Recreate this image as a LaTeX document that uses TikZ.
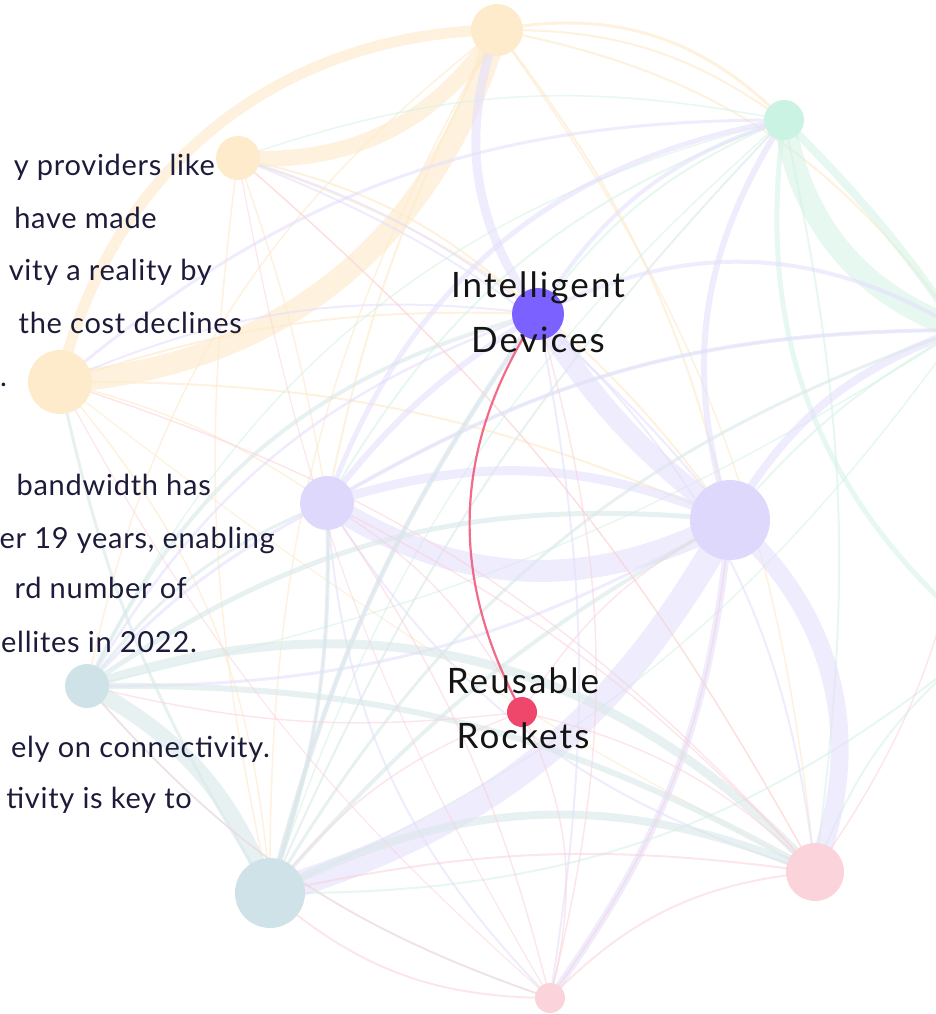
\documentclass[tikz,border=0pt]{standalone}
\usepackage{fontspec}
\setmainfont{Lato}
\newfontfamily\bodyfont[LetterSpace=2.5]{Lato}
\newfontfamily\labelfont[LetterSpace=6]{Lato}
\definecolor{cO}{HTML}{FDE9C8}
\definecolor{cL}{HTML}{E4DFFC}
\definecolor{cM}{HTML}{D5F3E6}
\definecolor{cB}{HTML}{D9E8E9}
\definecolor{cP}{HTML}{FAD2DA}
\definecolor{nO}{HTML}{FDEBCC}
\definecolor{nM}{HTML}{CBF3E3}
\definecolor{nL}{HTML}{DDD8FC}
\definecolor{nE}{HTML}{7B61FF}
\definecolor{nB}{HTML}{CFE2E7}
\definecolor{nP}{HTML}{FAD3DB}
\definecolor{nR}{HTML}{EF476B}
\definecolor{txtc}{HTML}{1C1B3A}
\pgfdeclarelayer{edges}
\pgfsetlayers{edges,main}
\begin{document}
\begin{tikzpicture}[x=1pt,y=-1pt,
  nd/.style={circle,inner sep=0pt,draw=none},
  eO/.style={draw=cO,draw opacity=.6,line cap=round},
  eL/.style={draw=cL,draw opacity=.6,line cap=round},
  eM/.style={draw=cM,draw opacity=.6,line cap=round},
  eB/.style={draw=cB,draw opacity=.6,line cap=round},
  eP/.style={draw=cP,draw opacity=.55,line cap=round},
  txt/.style={text=txtc,font=\bodyfont\fontsize{29}{34}\selectfont,inner sep=0pt},
  lbl/.style={text=black!92,font=\labelfont\fontsize{35}{40}\selectfont,inner sep=0pt}]
\useasboundingbox (0,0) rectangle (936,1014);
% nodes
\node[nd,fill=nO,minimum size=52] (A) at (497,30) {};
\node[nd,fill=nO,minimum size=44] (B) at (238,158) {};
\node[nd,fill=nO,minimum size=64] (C) at (60,382) {};
\node[nd,fill=nM,minimum size=40] (D) at (784,120) {};
\node[nd,fill=nE,minimum size=52] (E) at (538,314) {};
\node[nd,fill=nL,minimum size=54] (F) at (327,503) {};
\node[nd,fill=nL,minimum size=80] (G) at (730,520) {};
\node[nd,fill=nB,minimum size=44] (H) at (87,686) {};
\node[nd,fill=nR,minimum size=30] (I) at (522,712) {};
\node[nd,fill=nB,minimum size=70] (J) at (270,893) {};
\node[nd,fill=nP,minimum size=58] (K) at (815,872) {};
\node[nd,fill=nP,minimum size=30] (L) at (550,998) {};
\coordinate (N) at (960,330);
\coordinate (N2) at (985,640);
\begin{pgfonlayer}{edges}
% orange
\draw[eO,line width=22] (C.center) to[bend right=35] (A.center);
\draw[eO,line width=16] (B.center) to[bend right=30] (A.center);
\draw[eO,line width=11] (C.center) to[bend left=38] (A.center);
\draw[eO,line width=3] (A.center) to[bend left=28] (D.center);
\draw[eO,line width=2] (A.center) to[bend left=18] (D.center);
\draw[eO,line width=2] (A.center) to[bend left=22] (N);
\draw[eO,line width=2] (A.center) to[bend left=12] (G.center);
\draw[eO,line width=1.5] (A.center) to[bend left=15] (K.center);
\draw[eO,line width=1.5] (A.center) to[bend right=15] (J.center);
\draw[eO,line width=2] (A.center) to[bend right=8] (F.center);
\draw[eO,line width=1.5] (A.center) to[bend right=20] (H.center);
\draw[eO,line width=2] (B.center) to[bend left=15] (E.center);
\draw[eO,line width=2] (B.center) to[bend left=18] (G.center);
\draw[eO,line width=1.5] (B.center) to[bend left=5] (F.center);
\draw[eO,line width=1.5] (B.center) to[bend right=10] (J.center);
\draw[eO,line width=1.2] (B.center) to[bend left=10] (K.center);
\draw[eO,line width=2] (C.center) to[bend left=12] (G.center);
\draw[eO,line width=1.5] (C.center) to[bend left=10] (F.center);
\draw[eO,line width=2] (C.center) to[bend left=10] (E.center);
\draw[eO,line width=1.5] (C.center) to[bend left=18] (J.center);
\draw[eO,line width=1.2] (C.center) to[bend right=5] (K.center);
% mint
\draw[eM,line width=22] (D.center) to[bend right=30] (N);
\draw[eM,line width=8] (D.center) to[bend left=5] (N);
\draw[eM,line width=5] (D.center) to[bend right=29] (N2);
\draw[eM,line width=2] (D.center) to[bend right=15] (E.center);
\draw[eM,line width=2] (D.center) to[bend right=20] (F.center);
\draw[eM,line width=1.5] (D.center) to[bend right=25] (H.center);
\draw[eM,line width=1.5] (D.center) to[bend right=15] (J.center);
\draw[eM,line width=2] (D.center) to[bend left=10] (K.center);
\draw[eM,line width=1.5] (D.center) to[bend right=15] (B.center);
\draw[eM,line width=2] (N) to[bend right=10] (G.center);
\draw[eM,line width=2] (N) to[bend right=15] (F.center);
\draw[eM,line width=2] (N2) to[bend right=15] (K.center);
\draw[eM,line width=2] (N2) to[bend left=20] (J.center);
\draw[eM,line width=1.5] (N) to[bend left=15] (J.center);
\draw[eM,line width=1.5] (N) to[bend left=10] (H.center);
% lavender
\draw[eL,line width=20] (G.center) to[bend left=10] (E.center);
\draw[eL,line width=22] (F.center) to[bend right=30] (G.center);
\draw[eL,line width=9] (F.center) to[bend left=20] (G.center);
\draw[eL,line width=26] (G.center) to[bend left=22] (J.center);
\draw[eL,line width=18] (G.center) to[bend left=35] (K.center);
\draw[eL,line width=9] (E.center) to[bend left=28] (A.center);
\draw[eL,line width=6] (D.center) to[bend right=25] (G.center);
\draw[eL,line width=5] (D.center) to[bend right=30] (F.center);
\draw[eL,line width=4] (E.center) to[bend left=29] (N);
\draw[eL,line width=4] (F.center) to[bend left=15] (N);
\draw[eL,line width=8] (G.center) to[bend left=20] (N);
\draw[eL,line width=7] (G.center) to[bend left=15] (L.center);
\draw[eL,line width=6] (E.center) to[bend right=10] (F.center);
\draw[eL,line width=3] (E.center) to[bend right=10] (J.center);
\draw[eL,line width=2.5] (E.center) to[bend right=20] (H.center);
\draw[eL,line width=2] (E.center) to[bend right=10] (B.center);
\draw[eL,line width=2] (E.center) to[bend right=15] (C.center);
\draw[eL,line width=2] (E.center) to[bend left=20] (K.center);
\draw[eL,line width=2] (E.center) to[bend left=10] (L.center);
\draw[eL,line width=4] (E.center) to[bend left=20] (D.center);
\draw[eL,line width=3] (F.center) to[bend right=10] (H.center);
\draw[eL,line width=2] (F.center) to[bend left=10] (J.center);
\draw[eL,line width=2] (F.center) to[bend right=20] (K.center);
\draw[eL,line width=2] (F.center) to[bend right=20] (L.center);
\draw[eL,line width=3] (G.center) to[bend left=15] (H.center);
\draw[eL,line width=2] (G.center) to[bend right=15] (B.center);
\draw[eL,line width=3] (D.center) to[bend right=20] (C.center);
% blue-grey
\draw[eB,line width=16] (H.center) to[bend left=20] (J.center);
\draw[eB,line width=9] (H.center) to[bend left=33] (K.center);
\draw[eB,line width=6] (H.center) to[bend left=15] (K.center);
\draw[eB,line width=8] (J.center) to[bend left=25] (K.center);
\draw[eB,line width=5] (J.center) to[bend left=10] (E.center);
\draw[eB,line width=4] (J.center) to[bend right=10] (F.center);
\draw[eB,line width=4] (H.center) to[bend left=25] (E.center);
\draw[eB,line width=5] (H.center) to[bend left=20] (G.center);
\draw[eB,line width=3] (H.center) to[bend left=15] (F.center);
\draw[eB,line width=4] (J.center) to[bend left=10] (G.center);
\draw[eB,line width=3] (J.center) to[bend left=10] (C.center);
\draw[eB,line width=2] (H.center) to[bend right=15] (L.center);
\draw[eB,line width=2] (J.center) to[bend left=10] (D.center);
\draw[eB,line width=3] (J.center) to[bend left=20] (N);
% pink
\draw[eP,line width=2] (K.center) to[bend right=20] (L.center);
\draw[eP,line width=2] (K.center) to[bend right=10] (J.center);
\draw[eP,line width=2] (L.center) to[bend left=20] (J.center);
\draw[eP,line width=1.5] (K.center) to[bend right=15] (C.center);
\draw[eP,line width=1.5] (K.center) to[bend right=10] (B.center);
\draw[eP,line width=1.5] (K.center) to[bend right=10] (F.center);
\draw[eP,line width=1.5] (L.center) to[bend left=15] (H.center);
\draw[eP,line width=1.5] (L.center) to[bend right=10] (F.center);
\draw[eP,line width=1.5] (L.center) to[bend right=15] (E.center);
\draw[eP,line width=1.5] (L.center) to[bend right=15] (G.center);
\draw[eP,line width=1.2] (L.center) to[bend left=10] (B.center);
\draw[eP,line width=1.2] (L.center) to[bend left=10] (C.center);
\draw[eP,line width=1.5] (I.center) to[bend left=10] (H.center);
\draw[eP,line width=1.5] (I.center) to[bend right=15] (J.center);
\draw[eP,line width=1.5] (I.center) to[bend left=15] (K.center);
\draw[eP,line width=1.5] (I.center) to[bend right=15] (F.center);
\draw[eP,line width=1.5] (I.center) to[bend left=15] (G.center);
\draw[eP,line width=1.5] (I.center) to[bend left=20] (L.center);
\draw[eP,line width=1.5] (K.center) to[bend right=20] (N);
\draw[draw=nR,draw opacity=.8,line width=2.2] (I.center) to[bend left=31] (E.center);
\end{pgfonlayer}
% left text
\node[txt,anchor=base east] (t1) at (215,175) {y providers like};
\node[txt,anchor=base east] (t2) at (157,228) {have made};
\node[txt,anchor=base east] (t3) at (212,280) {vity a reality by};
\node[txt,anchor=base east] (t4) at (242,333) {the cost declines};
\node[txt,anchor=base west] (t5) at (0,386) {.};
\node[txt,anchor=base east] (t6) at (211,495) {bandwidth has};
\node[txt,anchor=base east] (t7) at (275,548) {er 19 years, enabling};
\node[txt,anchor=base east] (t8) at (187,598) {rd number of};
\node[txt,anchor=base west] (t9) at (1,652) {ellites in 2022.};
\node[txt,anchor=base east] (t10) at (270,757) {ely on connectivity.};
\node[txt,anchor=base east] (t11) at (192,808) {tivity is key to};
% labels
\node[lbl,anchor=base] (lE1) at (538,297) {Intelligent};
\node[lbl,anchor=base] (lE2) at (538,352) {Devices};
\node[lbl,anchor=base] (lI1) at (523,693) {Reusable};
\node[lbl,anchor=base] (lI2) at (523,748) {Rockets};
\end{tikzpicture}
\end{document}
